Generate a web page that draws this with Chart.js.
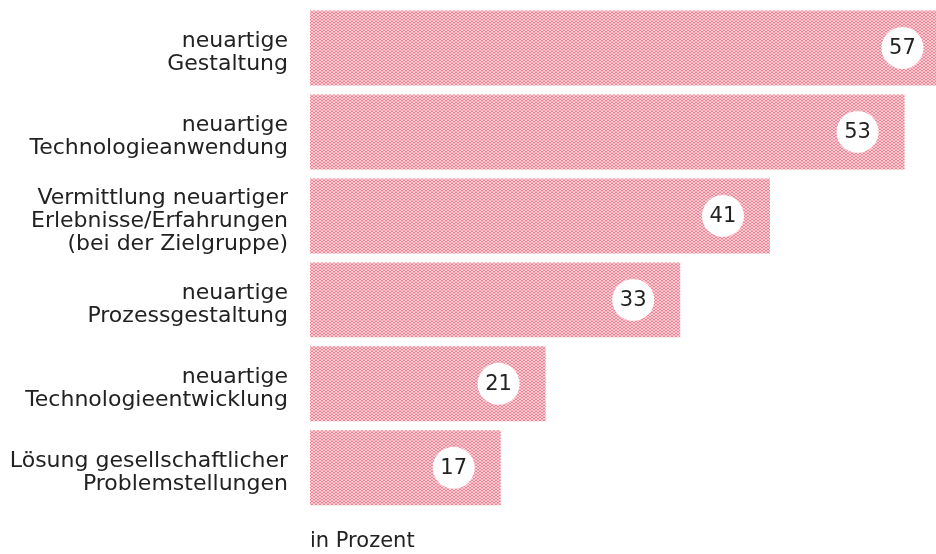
<!DOCTYPE html>
<html>
<head>
<meta charset="utf-8">
<script src="https://cdn.jsdelivr.net/npm/chart.js@4"></script>
<style>
  html, body { margin: 0; padding: 0; background: #fff; }
  #wrap { width: 936px; height: 554px; position: relative; }
</style>
</head>
<body>
<div id="wrap"><canvas id="myChart" width="936" height="554"></canvas></div>
<script>
"use strict"
// categories (multi-line) and percentages
let categories = [
    ['neuartige', 'Gestaltung'],
    ['neuartige', 'Technologieanwendung'],
    ['Vermittlung neuartiger', 'Erlebnisse/Erfahrungen', '(bei der Zielgruppe)'],
    ['neuartige', 'Prozessgestaltung'],
    ['neuartige', 'Technologieentwicklung'],
    ['Lösung gesellschaftlicher', 'Problemstellungen']
];
let values = [57, 53, 41, 33, 21, 17];
let axisTitle = 'in Prozent';

const fontFamily = "'DejaVu Sans', 'Noto Sans', sans-serif";

// small zigzag tile used as bar fill
function makePattern() {
    let tile = document.createElement('canvas');
    tile.width = 4;
    tile.height = 3;
    let t = tile.getContext('2d');
    t.fillStyle = '#fcdade';
    t.fillRect(0, 0, 4, 3);
    t.fillStyle = '#ef7f91';
    let dots = [[0, 0], [3, 0], [1, 1], [2, 1]];
    for (let i = 0; i < dots.length; i++) {
        t.fillRect(dots[i][0], dots[i][1], 1, 1);
    }
    t.fillStyle = '#f7b0ba';
    t.fillRect(0, 2, 4, 1);
    return t.createPattern(tile, 'repeat');
}

// white circle with the value, near the end of each bar
let valueBubbles = {
    id: 'valueBubbles',
    afterDatasetsDraw(chart) {
        let ctx = chart.ctx;
        let meta = chart.getDatasetMeta(0);
        let xScale = chart.scales.x;
        ctx.save();
        for (let i = 0; i < values.length; i++) {
            let bar = meta.data[i];
            let cx = xScale.getPixelForValue(values[i]) - 47;
            let cy = bar.y;
            ctx.beginPath();
            ctx.arc(cx, cy, 21, 0, Math.PI * 2);
            ctx.fillStyle = '#ffffff';
            ctx.fill();
            ctx.fillStyle = '#222222';
            ctx.font = '21px ' + fontFamily;
            ctx.textAlign = 'center';
            ctx.textBaseline = 'middle';
            ctx.fillText(String(values[i]), cx, cy + 1);
        }
        ctx.restore();
    }
};

let ctx = document.getElementById('myChart').getContext('2d');
let myChart = new Chart(ctx, {
    type: 'bar',
    data: {
        labels: categories,
        datasets: [{
            data: values,
            backgroundColor: makePattern(),
            borderWidth: 0,
            barPercentage: 0.893,
            categoryPercentage: 1
        }]
    },
    plugins: [valueBubbles],
    options: {
        indexAxis: 'y',
        responsive: false,
        animation: false,
        layout: { padding: { top: 6, right: 0, bottom: 0, left: 0 } },
        plugins: {
            legend: { display: false },
            tooltip: { enabled: false }
        },
        scales: {
            x: {
                min: 0,
                max: 55.8,
                grid: { display: false, drawTicks: false },
                border: { display: false },
                ticks: { display: false },
                title: {
                    display: true,
                    text: axisTitle,
                    align: 'start',
                    color: '#222222',
                    font: { family: fontFamily, size: 21 },
                    padding: { top: 19, bottom: 0 }
                },
                afterFit(scale) {
                    scale.paddingLeft = 0;
                    scale.paddingRight = 0;
                }
            },
            y: {
                grid: { display: false, drawTicks: false },
                border: { display: false },
                ticks: {
                    color: '#222222',
                    padding: 22,
                    labelOffset: 5,
                    font: { family: fontFamily, size: 22, lineHeight: 1.05 }
                },
                afterFit(scale) {
                    scale.width = 310;
                    scale.paddingTop = 0;
                    scale.paddingBottom = 0;
                }
            }
        }
    }
});
</script>
</body>
</html>
